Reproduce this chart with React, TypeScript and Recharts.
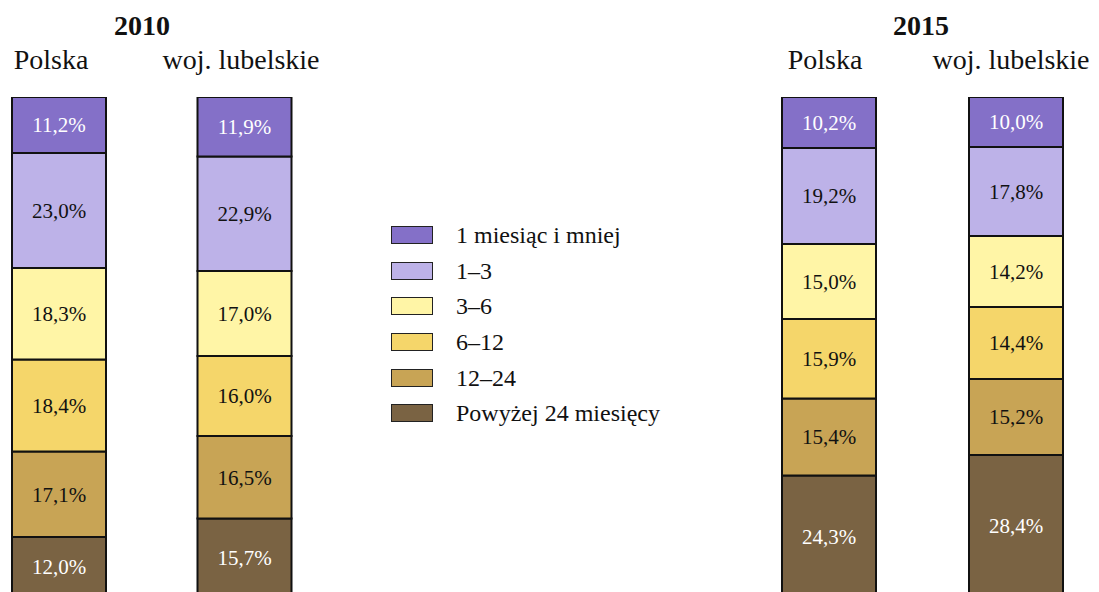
import React from "react";
import { BarChart, Bar, XAxis, YAxis, LabelList } from "recharts";

const regions = ["Polska", "woj. lubelskie"];
const seriesNames = ["1 miesiąc i mniej", "1–3", "3–6", "6–12", "12–24", "Powyżej 24 miesięcy"];
const seriesColors = ["#8470C8", "#BDB2E8", "#FFF5A6", "#F5D66A", "#C8A455", "#7A6343"];
const labelColors = ["#fff", "#111", "#111", "#111", "#111", "#fff"];

const polska2010 = [11.2, 23.0, 18.3, 18.4, 17.1, 12.0];
const lubelskie2010 = [11.9, 22.9, 17.0, 16.0, 16.5, 15.7];
const polska2015 = [10.2, 19.2, 15.0, 15.9, 15.4, 24.3];
const lubelskie2015 = [10.0, 17.8, 14.2, 14.4, 15.2, 28.4];

const FONT = '"Liberation Serif", "Times New Roman", serif';

function toRows(values: number[][]) {
  return regions.map((region, i) => {
    const row: Record<string, any> = { region };
    seriesNames.forEach((_, k) => (row["s" + k] = values[i][k]));
    return row;
  });
}

const fmt = (v: any) => Number(v).toFixed(1).replace(".", ",") + "%";

function YearChart({ rows, left, width }: { rows: any[]; left: number; width: number }) {
  // first Bar sits at the bottom of the stack, so go from the last series up
  const order = seriesNames.map((_, k) => k).reverse();
  return (
    <div style={{ position: "absolute", left, top: 97 }}>
      <BarChart
        width={width}
        height={500}
        data={rows}
        margin={{ top: 0, right: 0, bottom: 0, left: 0 }}
        style={{ fontFamily: FONT }}
      >
        <XAxis dataKey="region" hide />
        <YAxis type="number" domain={[0, 100]} hide />
        {order.map((k) => (
          <Bar
            key={k}
            dataKey={"s" + k}
            stackId="a"
            barSize={94}
            fill={seriesColors[k]}
            stroke="#111"
            strokeWidth={2}
            isAnimationActive={false}
          >
            <LabelList
              dataKey={"s" + k}
              position="center"
              formatter={fmt}
              fill={labelColors[k]}
              fontSize={21}
              fontFamily={FONT}
            />
          </Bar>
        ))}
      </BarChart>
    </div>
  );
}

const textStyle: React.CSSProperties = {
  position: "absolute",
  fontFamily: FONT,
  fontSize: 28,
  color: "#111",
  whiteSpace: "nowrap",
  transform: "translateX(-50%)",
  lineHeight: 1,
};

export default function App() {
  return (
    <div
      style={{
        position: "absolute",
        left: 0,
        top: 0,
        width: 1099,
        height: 592,
        overflow: "hidden",
        background: "#fff",
        fontFamily: FONT,
      }}
    >
      <div style={{ ...textStyle, left: 142, top: 12, fontWeight: "bold" }}>2010</div>
      <div style={{ ...textStyle, left: 51, top: 46 }}>{regions[0]}</div>
      <div style={{ ...textStyle, left: 241, top: 46 }}>{regions[1]}</div>
      <div style={{ ...textStyle, left: 921, top: 12, fontWeight: "bold" }}>2015</div>
      <div style={{ ...textStyle, left: 825, top: 46 }}>{regions[0]}</div>
      <div style={{ ...textStyle, left: 1011, top: 46 }}>{regions[1]}</div>

      <YearChart rows={toRows([polska2010, lubelskie2010])} left={-34} width={371} />
      <YearChart rows={toRows([polska2015, lubelskie2015])} left={735} width={374} />

      <div style={{ position: "absolute", left: 391, top: 224 }}>
        {seriesNames.map((name, k) => (
          <div key={name} style={{ display: "flex", alignItems: "center", height: 35.7 }}>
            <div
              style={{
                width: 40,
                height: 16,
                background: seriesColors[k],
                border: "1.5px solid #222",
                marginTop: -14,
              }}
            />
            <span
              style={{
                fontFamily: FONT,
                fontSize: 24,
                color: "#111",
                marginLeft: 23,
                marginTop: -14,
                lineHeight: 1,
              }}
            >
              {name}
            </span>
          </div>
        ))}
      </div>
    </div>
  );
}
